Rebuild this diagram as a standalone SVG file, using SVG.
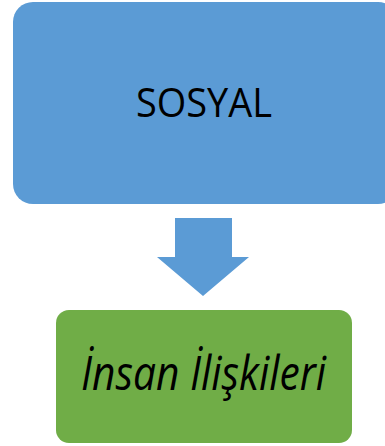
<svg xmlns="http://www.w3.org/2000/svg" width="385" height="446" viewBox="0 0 385 446">
<style>
.lbl{font-family:"Open Sans","Noto Sans","DejaVu Sans",sans-serif;fill:#000;text-anchor:middle}
</style>
<rect width="385" height="446" fill="#fff"/>
<g id="sosyal">
<rect x="13" y="2" width="385" height="202" rx="20" fill="#5B9BD5"/>
<text class="lbl" x="204" y="117" font-size="41" textLength="136" lengthAdjust="spacingAndGlyphs">SOSYAL</text>
</g>
<g id="connectors">
<polygon points="175,218 232,218 232,257 249,257 203,296 157,257 175,257" fill="#5B9BD5"/>
</g>
<g id="insan">
<rect x="56" y="310" width="296" height="133" rx="13" fill="#70AD47"/>
<text class="lbl" x="203.5" y="390" font-size="47" font-style="italic" textLength="245" lengthAdjust="spacingAndGlyphs">İnsan İlişkileri</text>
</g>
</svg>
